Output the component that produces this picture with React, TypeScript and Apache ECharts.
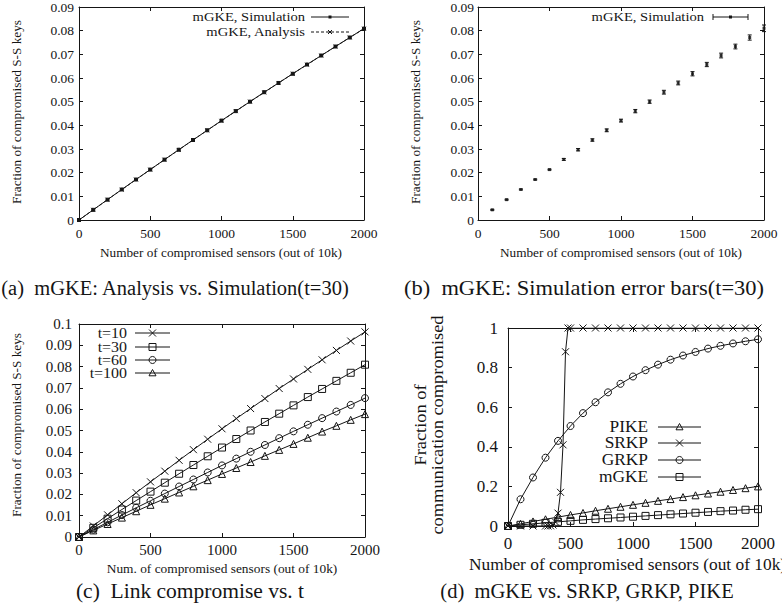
import React, { useEffect, useRef } from 'react';
import * as echarts from 'echarts';

// ---------- data ----------
const sensorsX = [0, 100, 200, 300, 400, 500, 600, 700, 800, 900, 1000, 1100, 1200, 1300, 1400, 1500, 1600, 1700, 1800, 1900, 2000];

// (a)
const mgkeSimulation = [0, 0.0043, 0.0086, 0.0129, 0.0171, 0.0213, 0.0255, 0.0297, 0.0338, 0.0379, 0.042, 0.046, 0.05, 0.054, 0.0579, 0.0618, 0.0657, 0.0695, 0.0733, 0.0771, 0.0809];
const mgkeAnalysis = [0, 0.0043, 0.0086, 0.0128, 0.0171, 0.0213, 0.0255, 0.0296, 0.0338, 0.0379, 0.0419, 0.046, 0.05, 0.0539, 0.0579, 0.0618, 0.0656, 0.0695, 0.0733, 0.0771, 0.0808];

// (b)
const errX = [100, 200, 300, 400, 500, 600, 700, 800, 900, 1000, 1100, 1200, 1300, 1400, 1500, 1600, 1700, 1800, 1900, 2000];
const errMean = [0.0043, 0.0086, 0.0129, 0.0171, 0.0213, 0.0256, 0.0297, 0.0338, 0.0379, 0.042, 0.046, 0.05, 0.054, 0.0579, 0.0618, 0.0657, 0.0695, 0.0733, 0.0771, 0.081];
const errHalf = [0.0002, 0.0002, 0.0002, 0.0002, 0.0002, 0.0004, 0.0005, 0.0005, 0.0006, 0.0006, 0.0007, 0.0007, 0.0008, 0.0008, 0.0009, 0.0009, 0.001, 0.001, 0.0011, 0.0014];

// (c)
const t10 = [0, 0.0052, 0.0104, 0.0156, 0.0208, 0.0259, 0.0309, 0.036, 0.041, 0.0459, 0.0508, 0.0556, 0.0603, 0.065, 0.0697, 0.0742, 0.0787, 0.0832, 0.0876, 0.092, 0.0963];
const t30 = [0, 0.0043, 0.0086, 0.0129, 0.0171, 0.0213, 0.0255, 0.0297, 0.0338, 0.0379, 0.042, 0.046, 0.05, 0.054, 0.0579, 0.0618, 0.0657, 0.0695, 0.0733, 0.0771, 0.0809];
const t60 = [0, 0.0035, 0.0069, 0.0103, 0.0137, 0.017, 0.0204, 0.0237, 0.027, 0.0303, 0.0336, 0.0368, 0.04, 0.0432, 0.0464, 0.0496, 0.0527, 0.0558, 0.0589, 0.062, 0.0652];
const t100 = [0, 0.0031, 0.0061, 0.0091, 0.0121, 0.0151, 0.018, 0.0209, 0.0238, 0.0267, 0.0296, 0.0324, 0.0352, 0.0381, 0.0409, 0.0437, 0.0466, 0.0495, 0.0522, 0.055, 0.0577];

// (d)
const srkpX = [0, 100, 200, 300, 320, 340, 360, 380, 400, 420, 440, 460, 480, 500, 600, 700, 800, 900, 1000, 1100, 1200, 1300, 1400, 1500, 1600, 1700, 1800, 1900, 2000];
const srkp = [0, 0, 0, 0, 0, 0.001, 0.005, 0.02, 0.065, 0.17, 0.41, 0.88, 1, 1, 1, 1, 1, 1, 1, 1, 1, 1, 1, 1, 1, 1, 1, 1, 1];
const grkp = [0, 0.135, 0.245, 0.345, 0.43, 0.505, 0.57, 0.625, 0.675, 0.718, 0.755, 0.787, 0.815, 0.84, 0.861, 0.879, 0.896, 0.91, 0.922, 0.933, 0.943];
const pike = [0, 0.011, 0.023, 0.034, 0.045, 0.056, 0.066, 0.077, 0.087, 0.097, 0.107, 0.117, 0.127, 0.136, 0.146, 0.155, 0.164, 0.173, 0.182, 0.191, 0.2];
const mgkeD = [0, 0.006, 0.011, 0.016, 0.021, 0.026, 0.031, 0.035, 0.039, 0.043, 0.047, 0.051, 0.055, 0.059, 0.063, 0.067, 0.071, 0.075, 0.078, 0.082, 0.085];

// ---------- styling ----------
const FONT = '"Liberation Serif", "Times New Roman", "DejaVu Serif", serif';
const INK = '#151515';
const CROSS = 'path://M0 0L10 10M10 0L0 10';
const TRANSP = 'rgba(0,0,0,0)';

const zip = (xs: number[], ys: number[]) => xs.map((x, i) => [x, ys[i]]);

const grids = [
  { left: 79, top: 7, width: 285, height: 213 },
  { left: 478, top: 7, width: 286, height: 213 },
  { left: 79, top: 324, width: 286, height: 213 },
  { left: 508, top: 328, width: 250, height: 198 },
];

const panelAxes = [
  { ymax: 0.09, yint: 0.01, font: 13.5, xm: 6, ym: 5 },
  { ymax: 0.09, yint: 0.01, font: 13.5, xm: 6, ym: 4 },
  { ymax: 0.1, yint: 0.01, font: 15, xm: 5, ym: 7 },
  { ymax: 1, yint: 0.2, font: 17, xm: 9, ym: 10 },
];

const fmtY = (v: number) => (v === 0 ? '0' : String(parseFloat(v.toFixed(2))));
const fmtX = (v: number) => String(Math.round(v));

function buildAxes() {
  const xAxis: any[] = [];
  const yAxis: any[] = [];
  panelAxes.forEach((p, g) => {
    const line = { show: true, onZero: false, lineStyle: { color: INK, width: 1 } };
    const tick = { show: true, inside: true, length: 4, lineStyle: { color: INK, width: 1 } };
    const label = { color: INK, fontFamily: FONT, fontSize: p.font };
    xAxis.push({
      type: 'value', gridIndex: g, min: 0, max: 2000, interval: 500, position: 'bottom',
      axisLine: line, axisTick: tick, splitLine: { show: false },
      axisLabel: { ...label, margin: p.xm, formatter: fmtX, showMinLabel: true, showMaxLabel: true },
    });
    xAxis.push({
      type: 'value', gridIndex: g, min: 0, max: 2000, interval: 500, position: 'top',
      axisLine: line, axisTick: tick, splitLine: { show: false }, axisLabel: { show: false },
    });
    yAxis.push({
      type: 'value', gridIndex: g, min: 0, max: p.ymax, interval: p.yint, position: 'left',
      axisLine: line, axisTick: tick, splitLine: { show: false },
      axisLabel: { ...label, margin: p.ym, formatter: fmtY, showMinLabel: true, showMaxLabel: true },
    });
    yAxis.push({
      type: 'value', gridIndex: g, min: 0, max: p.ymax, interval: p.yint, position: 'right',
      axisLine: line, axisTick: tick, splitLine: { show: false }, axisLabel: { show: false },
    });
  });
  return { xAxis, yAxis };
}

function lineSeries(name: string, g: number, data: number[][], symbol: string, size: number, dashed = false, filled = false) {
  return {
    name, type: 'line', xAxisIndex: 2 * g, yAxisIndex: 2 * g, data,
    symbol, symbolSize: size, showSymbol: true, silent: true,
    lineStyle: { color: INK, width: 1, type: dashed ? [3, 2] : 'solid' },
    itemStyle: { color: filled ? INK : TRANSP, borderColor: INK, borderWidth: 1 },
    z: 3,
  };
}

// ---------- graphic helpers (legend samples, names, captions) ----------
function txt(x: number, y: number, text: string, size: number, align = 'center', rotate = false, lineHeight?: number, sx = 1) {
  return {
    type: 'text', x, y, rotation: rotate ? Math.PI / 2 : 0, scaleX: sx, silent: true,
    style: { text, fill: INK, fontFamily: FONT, fontSize: size, align, verticalAlign: 'middle', lineHeight: lineHeight || size * 1.1 },
  };
}
function seg(x1: number, y1: number, x2: number, y2: number, dash?: number[]) {
  return { type: 'line', silent: true, shape: { x1, y1, x2, y2 }, style: { stroke: INK, lineWidth: 1, lineDash: dash || null } };
}
function marker(kind: string, cx: number, cy: number, s: number): any[] {
  const h = s / 2;
  switch (kind) {
    case 'cross': return [seg(cx - h, cy - h, cx + h, cy + h), seg(cx - h, cy + h, cx + h, cy - h)];
    case 'rect': return [{ type: 'rect', silent: true, shape: { x: cx - h, y: cy - h, width: s, height: s }, style: { fill: 'none', stroke: INK, lineWidth: 1 } }];
    case 'circle': return [{ type: 'circle', silent: true, shape: { cx, cy, r: h }, style: { fill: 'none', stroke: INK, lineWidth: 1 } }];
    case 'triangle': return [{ type: 'polygon', silent: true, shape: { points: [[cx, cy - h], [cx + h, cy + h * 0.8], [cx - h, cy + h * 0.8]] }, style: { fill: 'none', stroke: INK, lineWidth: 1 } }];
    case 'dot': return [{ type: 'rect', silent: true, shape: { x: cx - 1.5, y: cy - 1.5, width: 3, height: 3 }, style: { fill: INK } }];
    default: return [];
  }
}
function legendRow(textRight: number, y: number, x1: number, x2: number, size: number, label: string, mk: string, mkSize: number, lh: number, sx: number, dash?: number[]) {
  const mid = (x1 + x2) / 2;
  return [txt(textRight, y, label, size, 'right', false, lh, sx), seg(x1, y, x2, y, dash), ...marker(mk, mid, y, mkSize)];
}

function buildGraphics() {
  const els: any[] = [];
  // (a) legend
  els.push(...legendRow(305, 17, 311, 349, 13, 'mGKE, Simulation', 'dot', 3, 14, 1.12));
  els.push(...legendRow(305, 32, 311, 349, 13, 'mGKE, Analysis', 'cross', 4, 14, 1.12, [3, 2]));
  // (b) legend with error bar sample
  els.push(txt(704, 17, 'mGKE, Simulation', 13, 'right', false, 14, 1.12));
  els.push(seg(713, 17, 748, 17), seg(713, 14, 713, 20), seg(748, 14, 748, 20), ...marker('dot', 730.5, 17, 3));
  // (c) legend
  els.push(...legendRow(127, 333, 135, 170, 14.5, 't=10', 'cross', 7, 13, 1.1));
  els.push(...legendRow(127, 347, 135, 170, 14.5, 't=30', 'rect', 7, 13, 1.1));
  els.push(...legendRow(127, 360, 135, 170, 14.5, 't=60', 'circle', 7, 13, 1.1));
  els.push(...legendRow(127, 373, 135, 170, 14.5, 't=100', 'triangle', 7, 13, 1.1));
  // (d) legend
  els.push(...legendRow(648, 427, 658, 701, 17, 'PIKE', 'triangle', 7, 16, 1.02));
  els.push(...legendRow(648, 443, 658, 701, 17, 'SRKP', 'cross', 7, 16, 1.02));
  els.push(...legendRow(648, 460, 658, 701, 17, 'GRKP', 'circle', 7, 16, 1.02));
  els.push(...legendRow(648, 477, 658, 701, 17, 'mGKE', 'rect', 7, 16, 1.02));

  // axis names
  els.push(txt(221, 253, 'Number of compromised sensors (out of 10k)', 12.5, 'center', false, 14, 1.06));
  els.push(txt(17, 112, 'Fraction of compromised S-S keys', 12.5, 'center', true, 14, 1.06));
  els.push(txt(621, 253, 'Number of compromised sensors (out of 10k)', 12.5, 'center', false, 14, 1.06));
  els.push(txt(416, 112, 'Fraction of compromised S-S keys', 12.5, 'center', true, 14, 1.06));
  els.push(txt(222, 569, 'Num. of compromised sensors (out of 10k)', 12.5, 'center', false, 14, 1.07));
  els.push(txt(17, 425, 'Fraction of compromised S-S keys', 12.5, 'center', true, 14, 1.06));
  els.push(txt(469, 565, 'Number of compromised sensors (out of 10k)', 16, 'left', false, 17, 1.085));
  els.push(txt(429, 425, 'Fraction of\ncommunication compromised', 16, 'center', true, 17, 1.15));

  // captions
  els.push(txt(175, 288, '(a)  mGKE: Analysis vs. Simulation(t=30)', 20.5));
  els.push(txt(584, 288, '(b)  mGKE: Simulation error bars(t=30)', 21, 'center', false, 23, 1.07));
  els.push(txt(190, 591, '(c)  Link compromise vs. t', 21.5));
  els.push(txt(587, 591, '(d)  mGKE vs. SRKP, GRKP, PIKE', 20.5));
  return els;
}

function buildOption() {
  const { xAxis, yAxis } = buildAxes();
  const series: any[] = [
    // (a)
    lineSeries('a_sim', 0, zip(sensorsX, mgkeSimulation), 'rect', 3, false, true),
    lineSeries('a_ana', 0, zip(sensorsX, mgkeAnalysis), CROSS, 4, true),
    // (b) error bars
    {
      name: 'b_err', type: 'custom', xAxisIndex: 2, yAxisIndex: 2, silent: true,
      data: errX.map((x, i) => [x, errMean[i], errHalf[i]]),
      encode: { x: 0, y: 1 },
      renderItem: (params: any, api: any) => {
        const x = api.value(0), y = api.value(1), e = api.value(2);
        const lo = api.coord([x, y - e]);
        const hi = api.coord([x, y + e]);
        const w = 2;
        const st = { stroke: INK, lineWidth: 1 };
        return {
          type: 'group',
          children: [
            { type: 'line', shape: { x1: lo[0], y1: lo[1], x2: hi[0], y2: hi[1] }, style: st },
            { type: 'line', shape: { x1: lo[0] - w, y1: lo[1], x2: lo[0] + w, y2: lo[1] }, style: st },
            { type: 'line', shape: { x1: hi[0] - w, y1: hi[1], x2: hi[0] + w, y2: hi[1] }, style: st },
          ],
        };
      },
      z: 3,
    },
    {
      name: 'b_pts', type: 'scatter', xAxisIndex: 2, yAxisIndex: 2, silent: true,
      data: zip(errX, errMean), symbol: 'rect', symbolSize: 3, itemStyle: { color: INK }, z: 4,
    },
    // (c)
    lineSeries('c_t10', 2, zip(sensorsX, t10), CROSS, 7),
    lineSeries('c_t30', 2, zip(sensorsX, t30), 'rect', 7),
    lineSeries('c_t60', 2, zip(sensorsX, t60), 'circle', 7),
    lineSeries('c_t100', 2, zip(sensorsX, t100), 'triangle', 7),
    // (d)
    lineSeries('d_pike', 3, zip(sensorsX, pike), 'triangle', 7),
    lineSeries('d_srkp', 3, zip(srkpX, srkp), CROSS, 7),
    lineSeries('d_grkp', 3, zip(sensorsX, grkp), 'circle', 7),
    lineSeries('d_mgke', 3, zip(sensorsX, mgkeD), 'rect', 7),
  ];
  return {
    animation: false,
    backgroundColor: '#ffffff',
    textStyle: { fontFamily: FONT },
    grid: grids.map((g) => ({ ...g, containLabel: false, show: false })),
    xAxis,
    yAxis,
    series,
    graphic: { elements: buildGraphics() },
  };
}

export default function App() {
  const ref = useRef<HTMLDivElement>(null);
  useEffect(() => {
    if (!ref.current) return;
    const chart = echarts.init(ref.current, undefined, { renderer: 'svg' });
    chart.setOption(buildOption() as any);
    return () => chart.dispose();
  }, []);
  return (
    <div
      ref={ref}
      style={{ position: 'fixed', left: 0, top: 0, width: 782, height: 614, background: '#fff' }}
    />
  );
}
